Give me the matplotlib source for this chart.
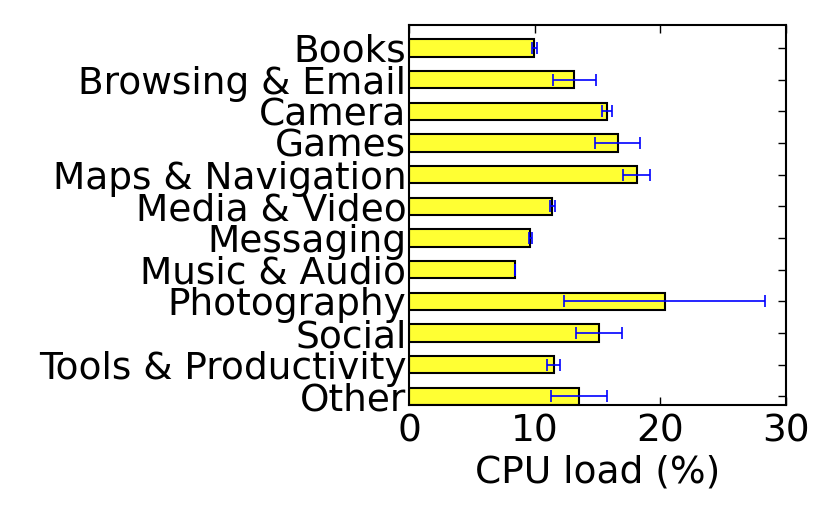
import matplotlib
matplotlib.use("Agg")
import matplotlib.pyplot as plt
import numpy as np

categories = ["Books", "Browsing & Email", "Camera", "Games", "Maps & Navigation",
              "Media & Video", "Messaging", "Music & Audio", "Photography", "Social",
              "Tools & Productivity", "Other"]
cpu_load = [9.97, 13.15, 15.75, 16.6, 18.1, 11.4, 9.65, 8.43, 20.35, 15.1, 11.5, 13.5]
cpu_err = [0.2, 1.7, 0.38, 1.78, 1.04, 0.2, 0.15, 0.0, 8.0, 1.85, 0.53, 2.23]
xticks = [0, 10, 20, 30]

fig = plt.figure(figsize=(8.3, 5.2), dpi=100)
ax = fig.add_axes([0.493, 0.221, 0.454, 0.731])

n = len(categories)
pos = np.arange(n)[::-1].astype(float)
h = 0.55
ax.barh(pos, cpu_load, height=h, align='edge', color='#ffff33', edgecolor='black',
        linewidth=1.5, zorder=2)
ax.errorbar(cpu_load, pos + h / 2, xerr=cpu_err, fmt='none', ecolor='blue',
            elinewidth=1.2, capsize=4, capthick=1.2, zorder=3)

fs = 27
ax.set_ylim(0, 12)
ax.set_xlim(0, 30)
ax.set_yticks(pos + h / 2)
ax.set_yticklabels(categories, fontsize=fs)
ax.set_xticks(xticks)
ax.set_xticklabels([str(t) for t in xticks], fontsize=fs)
ax.set_xlabel("CPU load (%)", fontsize=fs, labelpad=4)
ax.tick_params(direction='in', length=6, width=1, top=True, right=True)
ax.tick_params(axis='y', pad=2)
ax.tick_params(axis='x', pad=6)
for s in ax.spines.values():
    s.set_linewidth(1.5)

fig.savefig("out.png", dpi=100)
